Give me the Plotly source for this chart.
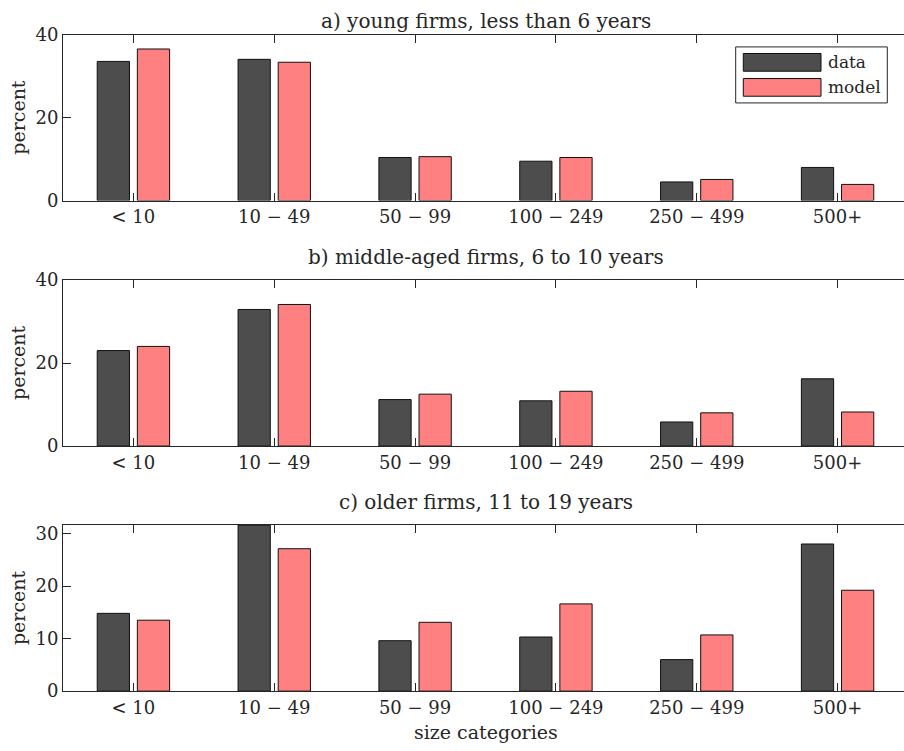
import plotly.graph_objects as go

categories = ["< 10", "10 − 49", "50 − 99", "100 − 249", "250 − 499", "500+"]
positions = [1, 2, 3, 4, 5, 6]

panel_titles = [
    "a) young firms, less than 6 years",
    "b) middle-aged firms, 6 to 10 years",
    "c) older firms, 11 to 19 years",
]

data_young = [33.6, 34.1, 10.4, 9.5, 4.5, 8.0]
model_young = [36.6, 33.4, 10.6, 10.4, 5.1, 3.9]

data_middle = [23.0, 32.9, 11.2, 10.9, 5.8, 16.2]
model_middle = [24.0, 34.1, 12.5, 13.2, 8.0, 8.2]

data_older = [14.8, 31.6, 9.6, 10.3, 6.0, 28.0]
model_older = [13.5, 27.1, 13.1, 16.6, 10.7, 19.2]

y_ranges = [[0, 40], [0, 40], [0, 31.6]]
y_ticks = [[0, 20, 40], [0, 20, 40], [0, 10, 20, 30]]

W, H = 904, 751
FONT = "DejaVu Serif"
TXT = "#262626"
DATA_COLOR = "#4d4d4d"
MODEL_COLOR = "#ff8080"

# measured vertical mapping of the photographed page: shown_y = V_OFF + V_SCALE * svg_y
V_OFF, V_SCALE = 10.8, 0.9717


def px(x):
    return x / W


def py(y):
    """window pixel y -> paper fraction, compensating the page's vertical mapping"""
    return 1 - ((y - V_OFF) / V_SCALE) / H


def py_raw(y_svg):
    return 1 - y_svg / H


panel_px = [(34.7, 200.3), (279.7, 445.7), (524.7, 690.7)]
x_left, x_right = 63.0, 904.0
x_range = [0.5, 6.5 - (908.0 - 904.0) / ((908.0 - 63.0) / 6.0)]

fig = go.Figure()
series = [(data_young, model_young), (data_middle, model_middle), (data_older, model_older)]

for i, (d, m) in enumerate(series):
    xa = "x" if i == 0 else f"x{i+1}"
    ya = "y" if i == 0 else f"y{i+1}"
    fig.add_trace(go.Bar(
        x=positions, y=d, name="data", xaxis=xa, yaxis=ya,
        width=0.229, offset=-0.257,
        marker=dict(color=DATA_COLOR, line=dict(color="#111111", width=1)),
        showlegend=False, hoverinfo="skip",
    ))
    fig.add_trace(go.Bar(
        x=positions, y=m, name="model", xaxis=xa, yaxis=ya,
        width=0.229, offset=0.028,
        marker=dict(color=MODEL_COLOR, line=dict(color="#111111", width=1)),
        showlegend=False, hoverinfo="skip",
    ))

layout = dict(
    width=W, height=H,
    margin=dict(l=0, r=0, t=0, b=0),
    paper_bgcolor="white", plot_bgcolor="white",
    font=dict(family=FONT, size=18, color=TXT),
    barmode="overlay",
    showlegend=False,
    dragmode=False,
)

for i in range(3):
    top, bot = panel_px[i]
    sfx = "" if i == 0 else str(i + 1)
    layout["xaxis" + sfx] = dict(
        domain=[px(x_left), px(x_right)],
        anchor="y" + sfx,
        range=x_range, fixedrange=True,
        tickmode="array", tickvals=positions, ticktext=categories,
        ticks="inside", ticklen=8, tickwidth=1, tickcolor=TXT,
        showline=True, linecolor=TXT, linewidth=1, mirror="ticks",
        showgrid=False, zeroline=False,
        tickfont=dict(family=FONT, size=18, color=TXT),
    )
    layout["yaxis" + sfx] = dict(
        domain=[py(bot), py(top)],
        anchor="x" + sfx,
        range=y_ranges[i], fixedrange=True,
        tickmode="array", tickvals=y_ticks[i],
        ticks="inside", ticklen=8, tickwidth=1, tickcolor=TXT,
        showline=True, linecolor=TXT, linewidth=1,
        showgrid=False, zeroline=False,
        tickfont=dict(family=FONT, size=18, color=TXT),
    )

fig.update_layout(**layout)

annotations = []
title_pos = [py_raw(10.5), py(257), py(502)]
for i in range(3):
    annotations.append(dict(
        text=panel_titles[i], xref="paper", yref="paper",
        x=px(486), y=title_pos[i], xanchor="center", yanchor="middle",
        showarrow=False, font=dict(family=FONT, size=20, color=TXT),
    ))
    top, bot = panel_px[i]
    annotations.append(dict(
        text="percent", xref="paper", yref="paper",
        x=px(18), y=py((top + bot) / 2), xanchor="center", yanchor="middle",
        textangle=-90, showarrow=False, font=dict(family=FONT, size=19, color=TXT),
    ))

annotations.append(dict(
    text="size categories", xref="paper", yref="paper",
    x=px(486), y=py_raw(741.5), xanchor="center", yanchor="middle",
    showarrow=False, font=dict(family=FONT, size=19, color=TXT),
))

legend_items = [("data", DATA_COLOR, 53.3, 71.0), ("model", MODEL_COLOR, 78.3, 96.0)]
shapes = [dict(
    type="rect", xref="paper", yref="paper",
    x0=px(735.7), x1=px(887.3), y0=py(102.7), y1=py(46.7),
    line=dict(color=TXT, width=1), fillcolor="white", layer="above",
)]
for label, col, y0, y1 in legend_items:
    shapes.append(dict(
        type="rect", xref="paper", yref="paper",
        x0=px(743.3), x1=px(821), y0=py(y1), y1=py(y0),
        line=dict(color="#111111", width=1), fillcolor=col, layer="above",
    ))
    annotations.append(dict(
        text=label, xref="paper", yref="paper",
        x=px(826), y=py((y0 + y1) / 2), xanchor="left", yanchor="middle",
        showarrow=False, font=dict(family=FONT, size=17, color=TXT),
    ))

fig.update_layout(annotations=annotations, shapes=shapes)

fig.write_html("out.html", config={"displayModeBar": False, "staticPlot": True},
               post_script="document.body.style.margin='0px';")
